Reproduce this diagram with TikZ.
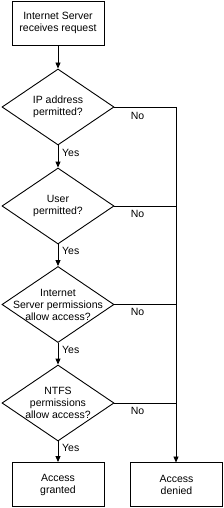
\documentclass[tikz,border=0pt]{standalone}
\usepackage{fontspec}
\setmainfont{Liberation Sans}
\usetikzlibrary{shapes.geometric,arrows.meta}
\begin{document}
\begin{tikzpicture}[x=1pt,y=-1pt,
  every node/.style={font=\fontsize{10.5}{12}\selectfont},
  box/.style={draw,line width=0.9pt,minimum width=92pt,minimum height=44pt,inner sep=0pt,align=center},
  dia/.style={draw,line width=0.9pt,diamond,minimum width=112pt,minimum height=76pt,inner sep=0pt},
  txt/.style={inner sep=0pt,align=center},
  lbl/.style={inner sep=0pt},
  conn/.style={line width=0.9pt},
  arr/.style={line width=0.9pt,-{Triangle[width=5pt,length=6pt]}}]
\useasboundingbox (0,0) rectangle (224,508);
\node[box] (start) at (58,23) {Internet Server\\receives request};
\node[dia] (d1) at (58,107) {};
\node[txt] (t1) at (d1) {IP address\\permitted?};
\node[dia] (d2) at (58,206) {};
\node[txt] (t2) at (d2) {User\\permitted?};
\node[dia] (d3) at (58,304.5) {};
\node[txt] (t3) at (d3) {Internet\\Server permissions\\allow access?};
\node[dia] (d4) at (58,403) {};
\node[txt] (t4) at (d4) {NTFS\\permissions\\allow access?};
\node[box] (grant) at (58,484.5) {Access\\granted};
\node[box] (deny) at (176.5,484.5) {Access\\denied};
\coordinate (j1) at (176,107);
\coordinate (j2) at (176,206);
\coordinate (j3) at (176,304.5);
\coordinate (j4) at (176,403);
\coordinate (jend) at (176,462.5);
\draw[arr] (start.south) -- (d1.north);
\draw[arr] (d1.south) -- (d2.north);
\draw[arr] (d2.south) -- (d3.north);
\draw[arr] (d3.south) -- (d4.north);
\draw[arr] (d4.south) -- (grant.north);
\draw[conn] (d1.east) -- (j1);
\draw[conn] (d2.east) -- (j2);
\draw[conn] (d3.east) -- (j3);
\draw[conn] (d4.east) -- (j4);
\draw[arr] (j1) -- (jend);
\node[lbl,anchor=west] (y1) at (62,153) {Yes};
\node[lbl,anchor=west] (y2) at (62,251) {Yes};
\node[lbl,anchor=west] (y3) at (62,349.5) {Yes};
\node[lbl,anchor=west] (y4) at (62,448) {Yes};
\node[lbl] (n1) at (137.5,116) {No};
\node[lbl] (n2) at (137.5,213.5) {No};
\node[lbl] (n3) at (137.5,312) {No};
\node[lbl] (n4) at (137.5,410.5) {No};
\end{tikzpicture}
\end{document}
